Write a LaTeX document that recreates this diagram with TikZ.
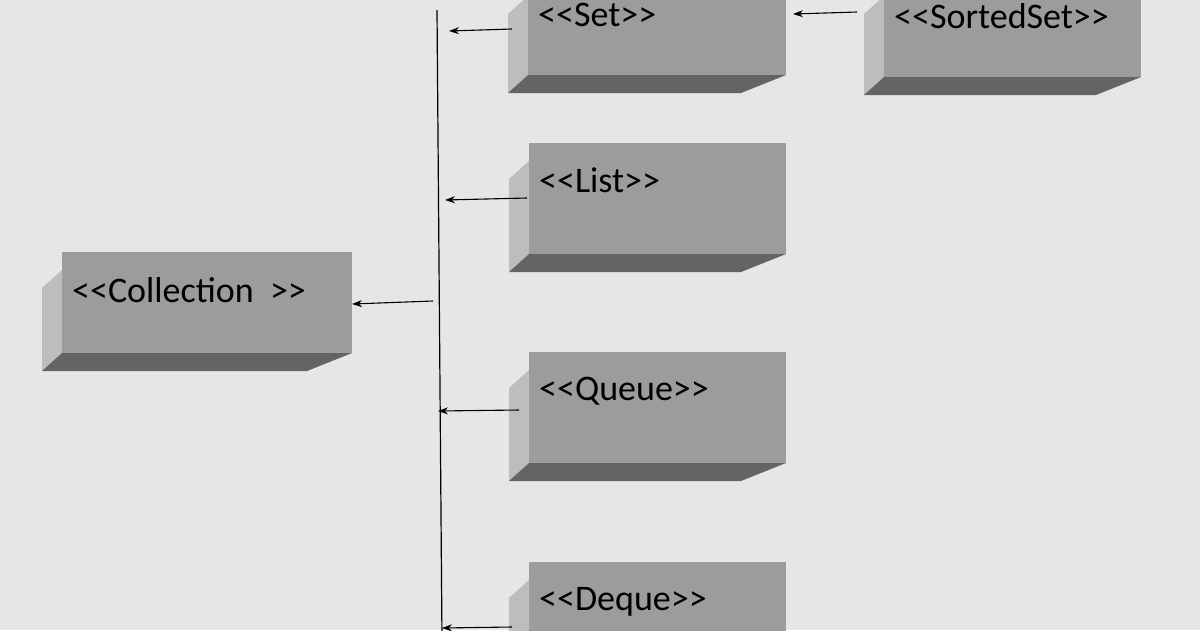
\documentclass[tikz,border=0pt]{standalone}
\usepackage{fontspec}
\setmainfont{Carlito}
\usetikzlibrary{arrows.meta,positioning,calc}

\definecolor{bgGray}{HTML}{E6E6E6}
\definecolor{frontGray}{HTML}{9C9C9C}
\definecolor{sideGray}{HTML}{BDBDBD}
\definecolor{bottomGray}{HTML}{646464}

% bevelled box: name, x1, y1, x2, y2, label
\newcommand{\bevelbox}[6]{%
  \fill[sideGray] (#2,#3+18) -- (#2-20,#3+36) -- (#2-20,#5+18) -- (#2,#5) -- cycle;
  \fill[bottomGray] (#2,#5) -- (#2-20,#5+18) -- (#4-45,#5+18) -- (#4,#5) -- cycle;
  \fill[frontGray] (#2,#3) rectangle (#4,#5);
  \node[boxtext, name=#1] at (#2,#3) {#6};
}

\begin{document}
\begin{tikzpicture}[x=1pt,y=-1pt,
  boxtext/.style={anchor=north west, inner sep=0pt, xshift=10pt, yshift=-25pt, font=\fontsize{36}{42}\selectfont},
  link/.style={-{Stealth[length=10pt,width=7pt]}, line width=1.1pt}]
\fill[bgGray] (0,0) rectangle (1200,630);
\useasboundingbox (0,0) rectangle (1200,630);
\begin{scope}
\clip (0,0) rectangle (1200,630);

\bevelbox{collection}{62}{252}{352}{353}{<{}<Collection~~>{}>}
\bevelbox{set}{528}{-22}{786}{75}{<{}<Set>{}>}
\bevelbox{sorted}{884}{-22}{1141}{77}{<{}<SortedSet>{}>}
\bevelbox{list}{529}{143}{786}{254}{<{}<List>{}>}
\bevelbox{queue}{529}{352}{786}{463}{<{}<Queue>{}>}
\bevelbox{deque}{529}{562}{786}{673}{<{}<Deque>{}>}

% the trunk line
\coordinate (top) at (437,10);
\coordinate (bottom) at (442,640);
\draw[line width=1.2pt] (top) -- (bottom);

\coordinate (setend) at (449,31);
\coordinate (listend) at (445,200);
\coordinate (trunk) at (433,301);
\coordinate (queueend) at (438,411);
\coordinate (dequeend) at (442,628);

\draw[link] (512,29) -- (setend);
\draw[link] (527,198) -- (listend);
\draw[link] (trunk) -- (352,304);
\draw[link] (519,410) -- (queueend);
\draw[link] (512,627) -- (dequeend);
\draw[link] (857,12) -- (793,14);
\end{scope}
\end{tikzpicture}
\end{document}
